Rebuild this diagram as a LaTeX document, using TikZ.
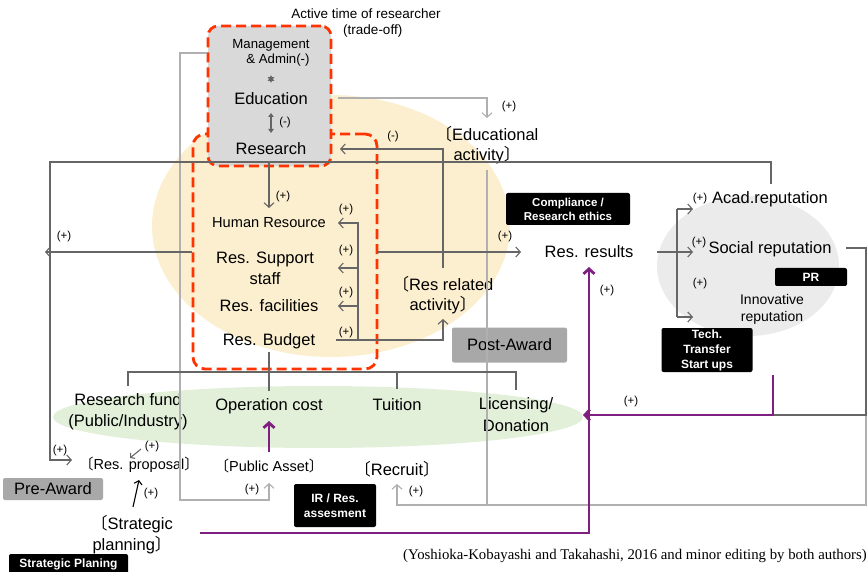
\documentclass[tikz,border=0pt]{standalone}
\usepackage{fontspec}
\setmainfont{Liberation Sans}
\newfontfamily\cjk{Noto Sans CJK JP}
\newfontfamily\timesf{Liberation Serif}
\usetikzlibrary{arrows.meta,shapes.geometric}
\newcommand{\lbr}{{\cjk 〔}}
\newcommand{\rbr}{{\cjk 〕}}
\definecolor{dline}{HTML}{666666}
\definecolor{lline}{HTML}{B0B0B0}
\definecolor{redd}{HTML}{FF3300}
\definecolor{cream}{HTML}{FCEFCF}
\definecolor{greenf}{HTML}{E2EFD9}
\definecolor{greyc}{HTML}{EBEBEB}
\definecolor{boxg}{HTML}{D9D9D9}
\definecolor{purp}{HTML}{7F2080}
\definecolor{awardg}{HTML}{A8A8A8}
\tikzset{
  big/.style={inner sep=0, align=center, font=\fontsize{16.5}{20}\selectfont},
  mid/.style={inner sep=0, align=center, font=\fontsize{14}{17}\selectfont},
  sml/.style={inner sep=0, align=center, font=\fontsize{14.5}{16}\selectfont},
  lbl/.style={inner sep=0, font=\fontsize{11.5}{13}\selectfont},
  blk/.style={fill=black, text=white, rounded corners=2pt, inner sep=0, align=center,
    font=\bfseries\fontsize{12}{14.5}\selectfont},
  award/.style={fill=awardg, rounded corners=2pt, inner sep=0, font=\fontsize{16.5}{20}\selectfont},
  dl/.style={draw=dline, line width=1.1pt},
  ll/.style={draw=lline, line width=1.1pt},
  pl/.style={draw=purp, line width=2.8pt},
  arr/.style={-{Straight Barb[length=4.5pt,width=10pt]}},
  reddash/.style={draw=redd, line width=2.8pt, dash pattern=on 10pt off 5pt},
}
\begin{document}
\begin{tikzpicture}[x=1pt,y=-1pt]
\useasboundingbox (0,0) rectangle (868,572);
% backgrounds
\node[ellipse, fill=cream, minimum width=358pt, minimum height=262pt, inner sep=0] (crm) at (331,226) {};
\node[ellipse, fill=greenf, minimum width=530pt, minimum height=62pt, inner sep=0] (grn) at (318,417) {};
\node[ellipse, fill=greyc, minimum width=182pt, minimum height=140pt, inner sep=0] (gry) at (748,266) {};
% dashed boxes
\node[reddash, rounded corners=12pt, minimum width=184pt, minimum height=235pt, inner sep=0] (resbox) at (285,251.5) {};
\node[reddash, fill=boxg, rounded corners=10pt, minimum width=123pt, minimum height=140pt, inner sep=0] (mgbox) at (269.5,96) {};

% texts
\node[lbl, align=center, font=\fontsize{13.5}{16}\selectfont] (active) at (366,23) {Active time of researcher\\\hspace*{1em}(trade-off)};
\node[inner sep=0, align=right, font=\fontsize{13.2}{15}\selectfont] (mgmt) at (271,53) {Management\\\& Admin(-)};
\node[star, star points=6, star point ratio=2, fill=dline, minimum size=8pt, inner sep=0] (ast) at (271,79) {};
\node[big] (edu) at (271,99) {Education};
\node[big] (res) at (271,149) {Research};
\node[lbl] (mlab) at (285,123) {(-)};
\node[big] (eduact) at (487,145) {\lbr Educational\\activity\rbr};
\node[mid, font=\fontsize{14.6}{17}\selectfont] (hr) at (269,223) {Human Resource};
\node[big, font=\fontsize{16.5}{21}\selectfont] (rss) at (265,268) {Res. Support\\staff};
\node[big] (rf) at (269,306) {Res. facilities};
\node[big] (rb) at (269,341) {Res. Budget};
\node[big] (rra) at (443,295) {\lbr Res related\\activity\rbr};
\node[big] (rr) at (589,252) {Res. results};
\node[blk, minimum width=124pt, minimum height=32pt, font=\bfseries\fontsize{11.5}{14}\selectfont] (comp) at (568,209) {Compliance /\\Research ethics};
\node[big] (acad) at (770,199) {Acad.reputation};
\node[big] (soc) at (770,249) {Social reputation};
\node[mid] (inn) at (772,309) {Innovative\\reputation};
\node[blk, minimum width=72pt, minimum height=18pt] (pr) at (811,277) {PR};
\node[blk, minimum width=91pt, minimum height=44pt, font=\bfseries\fontsize{12}{15}\selectfont] (tech) at (707,350) {Tech.\\Transfer\\Start ups};
\node[award, minimum width=115pt, minimum height=35pt] (post) at (509.5,345) {Post-Award};
\node[big, font=\fontsize{16.5}{21}\selectfont] (rfund) at (128,412) {Research fund\\(Public/Industry)};
\node[big] (opc) at (269,406) {Operation cost};
\node[big] (tui) at (397,405) {Tuition};
\node[big, font=\fontsize{16.5}{22}\selectfont] (lic) at (516,415) {Licensing/\\Donation};
\node[sml] (rprop) at (139,465) {\lbr Res. proposal\rbr};
\node[sml] (pa) at (269,466) {\lbr Public Asset\rbr};
\node[mid, font=\fontsize{16.5}{17}\selectfont] (rec) at (397,469) {\lbr Recruit\rbr};
\node[award, minimum width=100pt, minimum height=22pt] (pre) at (53,489) {Pre-Award};
\node[blk, minimum width=82pt, minimum height=43pt] (ir) at (335,505.5) {IR / Res.\\assesment};
\node[big, font=\fontsize{16.5}{21}\selectfont] (sp) at (132,535) {\lbr Strategic\\planning\rbr};
\node[blk, minimum width=119pt, minimum height=21pt] (spb) at (68.5,564.5) {Strategic Planing};
\node[inner sep=0, font=\timesf\fontsize{14.8}{16}\selectfont] (cite) at (635,556) {(Yoshioka-Kobayashi and Takahashi, 2016 and minor editing by both authors)};

% coordinates
\coordinate (c1) at (180,53);
\coordinate (c2) at (180,500);
\coordinate (c3) at (269,500);
\coordinate (paS) at (269,483);
\coordinate (eduR) at (338,98);
\coordinate (e1) at (487,98);
\coordinate (eaN) at (487,118);
\coordinate (eaS) at (487,170);
\coordinate (e2) at (487,505);
\coordinate (r1) at (866,505);
\coordinate (r2) at (866,415);
\coordinate (recB) at (397,505);
\coordinate (recS) at (397,484);
\coordinate (resS) at (269,162);
\coordinate (hrN) at (269,208);
\coordinate (acadN) at (771,184);
\coordinate (a1) at (771,162);
\coordinate (a2) at (50,162);
\coordinate (a3) at (50,460);
\coordinate (rpW) at (72,460);
\coordinate (leftT) at (45,252);
\coordinate (rrW) at (521,252);
\coordinate (rraN) at (443,268);
\coordinate (f1) at (443,149);
\coordinate (resE) at (340,149);
\coordinate (rbE) at (336,340);
\coordinate (b1) at (443,340);
\coordinate (rraS) at (443,319);
\coordinate (v1) at (358,340);
\coordinate (v2) at (358,223);
\coordinate (v3) at (358,268);
\coordinate (v4) at (358,306);
\coordinate (rrE) at (657,252);
\coordinate (k0) at (677,252);
\coordinate (k1) at (677,209);
\coordinate (k2) at (677,317);
\coordinate (socE) at (846,248);
\coordinate (s1) at (866,248);
\coordinate (s2) at (773,415);
\coordinate (rbS) at (269,352);
\coordinate (opcN) at (269,391);
\coordinate (t1) at (128,386);
\coordinate (t2) at (128,372);
\coordinate (t3) at (516,372);
\coordinate (t4) at (516,390);
\coordinate (t5) at (397,372);
\coordinate (t6) at (397,389);
\coordinate (q1) at (141,449);
\coordinate (q2) at (130,458);
\coordinate (sp1) at (133,507);
\coordinate (sp2) at (139,480);
\coordinate (pa1) at (269,452);
\coordinate (pa2) at (269,421);
\coordinate (p1) at (200,533);
\coordinate (p2) at (589,533);
\coordinate (rrS) at (589,267);
\coordinate (techS) at (773,375);
\coordinate (licE) at (583,415);

% light connectors
\draw[ll, arr] (mgbox.west |- c1) -- (c1) -- (c2) -- (c3) -- (paS);
\draw[ll, arr] (eduR) -- (e1) -- (eaN);
\draw[ll] (eaS) -- (e2);
\draw[ll, arr] (r2) -- (r1) -- (recB) -- (recS);

% dark connectors
\draw[dl, arr] (resS) -- (hrN);
\draw[dl, arr] (acadN) -- (a1) -- (a2) -- (a3) -- (rpW);
\draw[dl, arr] (resbox.west |- leftT) -- (leftT);
\draw[dl, arr] (resbox.east |- rrW) -- (rrW);
\draw[dl, arr] (rraN) -- (f1) -- (resE);
\draw[dl, arr] (rbE) -- (b1) -- (rraS);
\draw[dl, arr] (v1) -- (v2) -- ++(-20,0);
\draw[dl, arr] (v3) -- ++(-20,0);
\draw[dl, arr] (v4) -- ++(-20,0);
\draw[dl] (rrE) -- (k0);
\draw[dl] (k1) -- (k2);
\draw[dl, arr] (k1) -- ++(16,0);
\draw[dl, arr] (k0) -- ++(16,0);
\draw[dl, arr] (k2) -- ++(16,0);
\draw[dl] (socE) -- (s1) -- (r2) -- (s2);
\draw[dl] (rbS) -- (opcN);
\draw[dl] (t1) -- (t2) -- (t3) -- (t4);
\draw[dl] (t5) -- (t6);
\draw[dl, -{Straight Barb[length=3pt,width=7pt]}] (q1) -- (q2);
\draw[draw=black, line width=1.1pt, -{Straight Barb[length=3.5pt,width=8pt]}] (sp1) -- (sp2);
\draw[dl, {Triangle[length=4pt,width=5.5pt]}-{Triangle[length=4pt,width=5.5pt]}, line width=1.4pt] (271,113) -- (271,133);

% purple
\draw[pl, -{Straight Barb[length=5pt,width=11pt]}] (pa1) -- (pa2);
\draw[pl, -{Straight Barb[length=5pt,width=11pt]}] (p1) -- (p2) -- (rrS);
\draw[pl, -{Straight Barb[length=5pt,width=11pt]}] (techS) -- (s2) -- (licE);

% labels
\node[lbl] at (509,107) {(+)};
\node[lbl] at (283,197) {(+)};
\node[lbl] at (393,137) {(-)};
\node[lbl] at (346,210) {(+)};
\node[lbl] at (346,251) {(+)};
\node[lbl] at (346,293) {(+)};
\node[lbl] at (346,333) {(+)};
\node[lbl] at (64,237) {(+)};
\node[lbl] at (505,237) {(+)};
\node[lbl] at (700,199) {(+)};
\node[lbl] at (699,243) {(+)};
\node[lbl] at (700,284) {(+)};
\node[lbl] at (607,291) {(+)};
\node[lbl] at (631,402) {(+)};
\node[lbl] at (60,451) {(+)};
\node[lbl] at (152,447) {(+)};
\node[lbl] at (151,494) {(+)};
\node[lbl] at (252,490) {(+)};
\node[lbl] at (416,492) {(+)};
\end{tikzpicture}
\end{document}
